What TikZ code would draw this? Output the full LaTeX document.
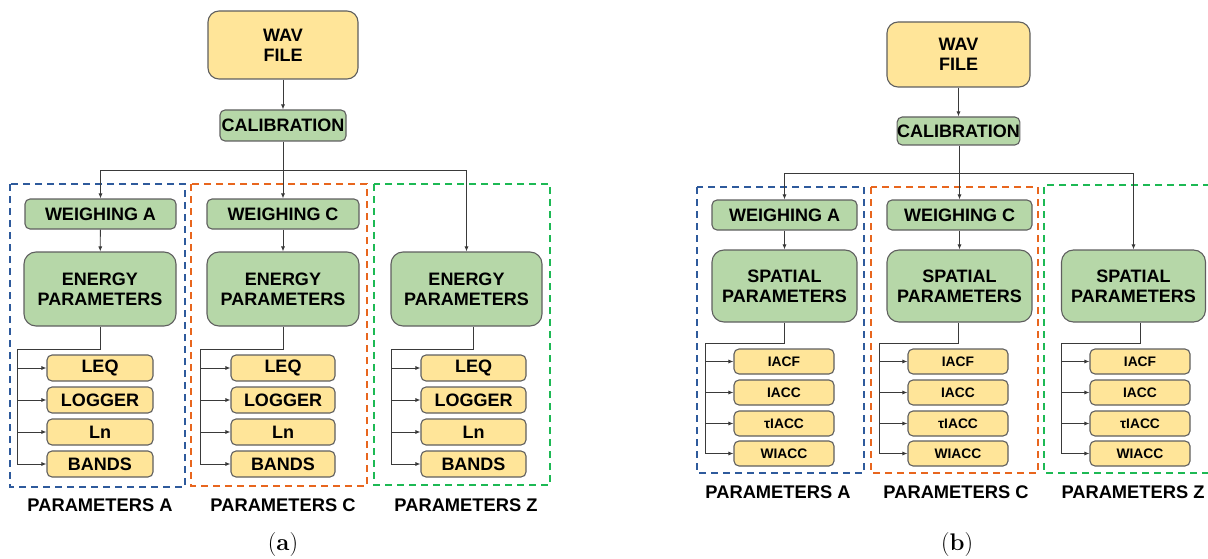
\documentclass[tikz,border=0pt]{standalone}
\usepackage{fontspec}
\newfontfamily\arialf{Liberation Sans}
\usetikzlibrary{arrows.meta}
\definecolor{boxyel}{HTML}{FFE599}
\definecolor{boxgrn}{HTML}{B6D7A8}
\definecolor{boxedge}{HTML}{5F5F5F}
\definecolor{lnclr}{HTML}{3A3A3A}
\definecolor{dblue}{HTML}{2E5A9C}
\definecolor{dorange}{HTML}{E8661E}
\definecolor{dgreen}{HTML}{1DB954}
\tikzset{
  base/.style={draw=boxedge, line width=1.1pt, align=center, inner sep=0pt,
    font=\arialf\bfseries\fontsize{18}{20}\selectfont},
  bigyel/.style={base, fill=boxyel, rounded corners=11pt},
  bigbox/.style={base, fill=boxgrn, rounded corners=12pt},
  calbox/.style={base, fill=boxgrn, rounded corners=5pt},
  wbox/.style={base, fill=boxgrn, rounded corners=5pt, minimum height=30pt},
  itemA/.style={base, fill=boxyel, rounded corners=5pt, minimum height=26pt},
  itemB/.style={base, fill=boxyel, rounded corners=5pt, minimum height=25pt, minimum width=100pt,
    font=\arialf\bfseries\fontsize{13.8}{16}\selectfont},
  conn/.style={draw=lnclr, line width=0.8pt},
  arr/.style={conn, -{Latex[length=5pt,width=4pt]}},
  grpbox/.style={line width=1.6pt, dash pattern=on 7pt off 5pt},
  grplabel/.style={font=\arialf\bfseries\fontsize{18.3}{20}\selectfont, inner sep=0pt},
  caplabel/.style={font=\fontsize{24}{28}\selectfont, inner sep=0pt}
}
\begin{document}
\begin{tikzpicture}[x=1pt,y=-1pt]
\useasboundingbox (0,0) rectangle (1208,559);

% ================= Panel (a) =================
\draw[grpbox, dblue] (10,184) rectangle (185,487);
\draw[grpbox, dorange] (191,184) rectangle (367,486);
\draw[grpbox, dgreen] (374,184) rectangle (550,485);

\node[bigyel, minimum width=150pt, minimum height=68pt] (wavA) at (283,45) {WAV\\FILE};
\node[calbox, minimum width=126pt, minimum height=31pt] (calA) at (283,125.5) {CALIBRATION};
\node[wbox, minimum width=151pt] (waA) at (100.5,214) {WEIGHING A};
\node[wbox, minimum width=152pt] (wcA) at (283,214) {WEIGHING C};
\node[bigbox, minimum width=152pt, minimum height=74pt] (epAa) at (100,289) {ENERGY\\PARAMETERS};
\node[bigbox, minimum width=152pt, minimum height=74pt] (epCa) at (283,289) {ENERGY\\PARAMETERS};
\node[bigbox, minimum width=151pt, minimum height=74pt] (epZa) at (466.5,289) {ENERGY\\PARAMETERS};

\foreach \g/\cx/\w in {A/100/106, C/283/104, Z/473.5/105}{
  \node[itemA, minimum width=\w pt] (leq\g) at (\cx,368) {LEQ};
  \node[itemA, minimum width=\w pt] (log\g) at (\cx,400) {LOGGER};
  \node[itemA, minimum width=\w pt] (ln\g) at (\cx,432) {Ln};
  \node[itemA, minimum width=\w pt] (bnd\g) at (\cx,464) {BANDS};
}
\coordinate (busA) at (17,349);
\coordinate (busC) at (200,349);
\coordinate (busZ) at (391,349);

\draw[arr] (wavA) -- (calA);
\draw[arr] (calA) -- (wcA);
\coordinate (jA) at (283,170);
\draw[arr] (jA) -| (waA);
\draw[arr] (jA) -| (epZa);
\draw[arr] (waA) -- (epAa);
\draw[arr] (wcA) -- (epCa);

\draw[conn] (epAa.south) |- (busA);
\draw[conn] (epCa.south) |- (busC);
\draw[conn] (leqZ.north |- epZa.south) |- (busZ);
\foreach \g in {A,C,Z}{
  \draw[arr] (bus\g) |- (leq\g.west);
  \draw[arr] (bus\g) |- (log\g.west);
  \draw[arr] (bus\g) |- (ln\g.west);
  \draw[arr] (bus\g) |- (bnd\g.west);
}

\node[grplabel] (plAa) at (100,505) {PARAMETERS A};
\node[grplabel] (plCa) at (283,505) {PARAMETERS C};
\node[grplabel] (plZa) at (466,505) {PARAMETERS Z};
\node[caplabel] (capa) at (283,545) {(\textbf{a})};

% ================= Panel (b) =================
\draw[grpbox, dblue] (697,187) rectangle (864,473);
\draw[grpbox, dorange] (871,187) rectangle (1038,473);
\draw[grpbox, dgreen] (1210,185) -- (1044,185) -- (1044,473) -- (1210,473);

\node[bigyel, minimum width=143pt, minimum height=65pt] (wavB) at (958.5,54.5) {WAV\\FILE};
\node[calbox, minimum width=121pt, minimum height=28pt] (calB) at (958.5,131) {CALIBRATION};
\node[wbox, minimum width=145pt] (waB) at (784.5,215) {WEIGHING A};
\node[wbox, minimum width=145pt] (wcB) at (959.5,215) {WEIGHING C};
\node[bigbox, minimum width=145pt, minimum height=72pt] (spA) at (784.5,286) {SPATIAL\\PARAMETERS};
\node[bigbox, minimum width=145pt, minimum height=72pt] (spC) at (959.5,286) {SPATIAL\\PARAMETERS};
\node[bigbox, minimum width=144pt, minimum height=72pt] (spZ) at (1133.5,286) {SPATIAL\\PARAMETERS};

\foreach \g/\cx in {A/784, C/958, Z/1140}{
  \node[itemB] (iacf\g) at (\cx,361.5) {IACF};
  \node[itemB] (iacc\g) at (\cx,392.5) {IACC};
  \node[itemB] (tiacc\g) at (\cx,423.5) {τIACC};
  \node[itemB] (wiacc\g) at (\cx,453.5) {WIACC};
}
\coordinate (bbusA) at (705,343);
\coordinate (bbusC) at (879,343);
\coordinate (bbusZ) at (1061,343);

\draw[arr] (wavB) -- (calB);
\draw[arr] (calB.south -| wcB.north) -- (wcB);
\coordinate (jB) at (959.5,173);
\draw[arr] (jB) -| (waB);
\draw[arr] (jB) -| (spZ);
\draw[arr] (waB) -- (spA);
\draw[arr] (wcB) -- (spC);

\draw[conn] (iacfA.north |- spA.south) |- (bbusA);
\draw[conn] (iacfC.north |- spC.south) |- (bbusC);
\draw[conn] (iacfZ.north |- spZ.south) |- (bbusZ);
\foreach \g in {A,C,Z}{
  \draw[arr] (bbus\g) |- (iacf\g.west);
  \draw[arr] (bbus\g) |- (iacc\g.west);
  \draw[arr] (bbus\g) |- (tiacc\g.west);
  \draw[arr] (bbus\g) |- (wiacc\g.west);
}

\node[grplabel] (plAb) at (778,492) {PARAMETERS A};
\node[grplabel] (plCb) at (956,492) {PARAMETERS C};
\node[grplabel] (plZb) at (1133,492) {PARAMETERS Z};
\node[caplabel] (capb) at (957,545) {(\textbf{b})};
\end{tikzpicture}
\end{document}
